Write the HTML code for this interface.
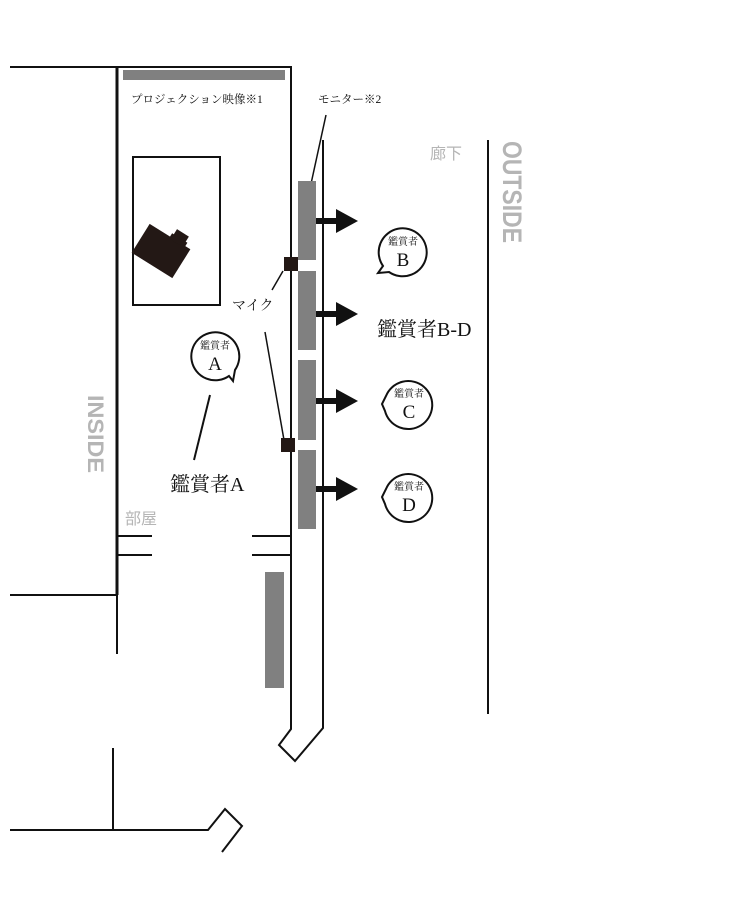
<!DOCTYPE html>
<html><head><meta charset="utf-8"><style>html,body{margin:0;padding:0;background:#fff;}svg{display:block}</style></head>
<body>
<svg width="731" height="911" viewBox="0 0 731 911" xmlns="http://www.w3.org/2000/svg" font-family="'Liberation Serif','Noto Serif CJK SC',serif">
<g fill="none" stroke="#111" stroke-width="2">
<polyline points="10,67 117,67 291,67 291,729 279,745 295,761 323,728 323,140"/>
<line x1="117" y1="67" x2="117" y2="595" stroke-width="3"/>
<line x1="117" y1="595" x2="117" y2="654"/>
<line x1="10" y1="595" x2="117" y2="595"/>
<line x1="118" y1="536" x2="152" y2="536"/>
<line x1="118" y1="555" x2="152" y2="555"/>
<line x1="252" y1="536" x2="292" y2="536"/>
<line x1="252" y1="555" x2="292" y2="555"/>
<line x1="113" y1="748" x2="113" y2="830"/>
<polyline points="10,830 208,830 225,809 242,826 222,852"/>
<line x1="488" y1="140" x2="488" y2="714"/>
<rect x="133" y="157" width="87" height="148"/>
<line x1="326" y1="115" x2="309" y2="193" stroke-width="1.5"/>
<line x1="283" y1="271" x2="272" y2="290" stroke-width="1.5"/>
<line x1="265" y1="332" x2="284" y2="440" stroke-width="1.5"/>
<line x1="210" y1="395" x2="194" y2="460" stroke-width="2"/>
</g>
<g fill="#808080">
<rect x="123" y="70" width="162" height="10"/>
<rect x="298" y="181" width="18" height="79"/>
<rect x="298" y="271" width="18" height="79"/>
<rect x="298" y="360" width="18" height="80"/>
<rect x="298" y="450" width="18" height="79"/>
<rect x="265" y="572" width="19" height="116"/>
</g>
<rect x="284" y="257" width="14" height="14" fill="#231815"/>
<rect x="281" y="438" width="14" height="14" fill="#231815"/>
<g transform="translate(161,251) rotate(32)" fill="#231815">
<rect x="-24" y="-17" width="48" height="34"/>
<rect x="2" y="-27" width="14" height="12"/>
<rect x="0" y="-21" width="18" height="6"/>
</g>
<g fill="#111">
<g transform="translate(0,221)"><rect x="316" y="-3" width="22" height="6"/><polygon points="336,-12 358,0 336,12"/></g>
<g transform="translate(0,314)"><rect x="316" y="-3" width="22" height="6"/><polygon points="336,-12 358,0 336,12"/></g>
<g transform="translate(0,401)"><rect x="316" y="-3" width="22" height="6"/><polygon points="336,-12 358,0 336,12"/></g>
<g transform="translate(0,489)"><rect x="316" y="-3" width="22" height="6"/><polygon points="336,-12 358,0 336,12"/></g>
</g>
<g fill="#fff" stroke="#111" stroke-width="2">
<path d="M 229 376 A 24 24 0 1 1 235 370 L 233 381 Z"/>
<path d="M 383 266 A 24 24 0 1 1 389 272 L 378 273 Z"/>
<path d="M 386 396 A 24 24 0 1 1 385 411 L 382 404 Z"/>
<path d="M 386 489 A 24 24 0 1 1 385 504 L 382 497 Z"/>
</g>
<g fill="#111" text-anchor="middle">
<text x="215" y="349" font-size="10">鑑賞者</text><text x="215" y="370" font-size="19">A</text>
<text x="403" y="245" font-size="10">鑑賞者</text><text x="403" y="266" font-size="19">B</text>
<text x="409" y="397" font-size="10">鑑賞者</text><text x="409" y="418" font-size="19">C</text>
<text x="409" y="490" font-size="10">鑑賞者</text><text x="409" y="511" font-size="19">D</text>
</g>
<g fill="#111">
<text x="131" y="103" font-size="11.5">プロジェクション映像※1</text>
<text x="318" y="103" font-size="11.5">モニター※2</text>
<text x="232" y="310" font-size="14">マイク</text>
<text x="377" y="336" font-size="20">鑑賞者B-D</text>
<text x="170" y="491" font-size="20">鑑賞者A</text>
</g>
<g fill="#b5b5b5" font-family="'Liberation Sans','Noto Sans CJK JP',sans-serif">
<text x="430" y="159" font-size="16">廊下</text>
<text x="125" y="524" font-size="16">部屋</text>
<text transform="translate(503,141) rotate(90)" font-size="27" font-weight="bold" textLength="102" lengthAdjust="spacingAndGlyphs">OUTSIDE</text>
<text transform="translate(88,395) rotate(90)" font-size="22" font-weight="bold" textLength="78" lengthAdjust="spacingAndGlyphs">INSIDE</text>
</g>
</svg>
</body></html>
